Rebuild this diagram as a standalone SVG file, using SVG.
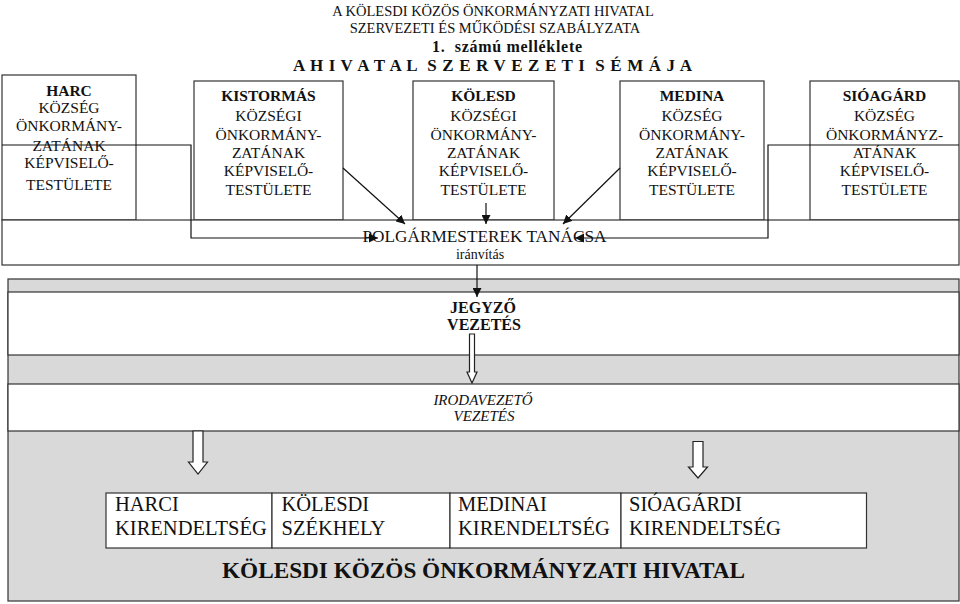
<svg xmlns="http://www.w3.org/2000/svg" width="960" height="604" viewBox="0 0 960 604">
<style>
text{font-family:"Liberation Serif","Times New Roman",serif;fill:#111;font-variant:normal;}
.u{text-transform:uppercase;}
.box{fill:#fff;stroke:#333;stroke-width:1.2;}
.band{stroke:#333;stroke-width:1.2;}
.g{fill:#d9d9d9;}
.w{fill:#fff;}
.t{font-size:15.5px;text-anchor:middle;text-transform:uppercase;}
.b{font-weight:bold;}
.c{fill:none;stroke:#111;stroke-width:1.2;}
.hollow{fill:#fff;stroke:#222;stroke-width:1.2;}
.big{font-size:20.5px;text-transform:uppercase;}
</style>
<defs>
<marker id="ah" viewBox="0 0 10 10" refX="10" refY="5" markerWidth="9" markerHeight="9" markerUnits="userSpaceOnUse" orient="auto">
<path d="M0,0 L10,5 L0,10 z" fill="#111"/>
</marker>
</defs>

<g id="header">
<text class="u" x="493" y="16" font-size="14.5" text-anchor="middle">A KÖLESDI KÖZÖS ÖNKORMÁNYZATI HIVATAL</text>
<text class="u" x="495" y="33" font-size="14.5" text-anchor="middle">SZERVEZETI ÉS MŰKÖDÉSI SZABÁLYZATA</text>
<text x="432" y="52" font-size="16" class="b" textLength="150" lengthAdjust="spacing" xml:space="preserve">1.  számú melléklete</text>
<text x="293" y="71" font-size="17" class="b u" textLength="399" lengthAdjust="spacing" xml:space="preserve">A H I V A T A L  S Z E R V E Z E T I  S É M Á J A</text>
</g>

<g id="harc">
<rect class="box" x="2" y="75" width="134" height="145"/>
<text class="t b" x="69" y="96">HARC</text>
<text class="t" x="69" y="113">KÖZSÉG</text>
<text class="t" x="69" y="131">ÖNKORMÁNY-</text>
<text class="t" x="69" y="151">ZATÁNAK</text>
<text class="t" x="69" y="168">KÉPVISELŐ-</text>
<text class="t" x="69" y="190">TESTÜLETE</text>
</g>

<g id="kistormas">
<rect class="box" x="194" y="81" width="149" height="139"/>
<text class="t b" x="268.5" y="101">KISTORMÁS</text>
<text class="t" x="268.5" y="121">KÖZSÉGI</text>
<text class="t" x="268.5" y="140">ÖNKORMÁNY-</text>
<text class="t" x="268.5" y="158">ZATÁNAK</text>
<text class="t" x="268.5" y="176">KÉPVISELŐ-</text>
<text class="t" x="268.5" y="195">TESTÜLETE</text>
</g>

<g id="kolesd">
<rect class="box" x="413" y="81" width="141" height="139"/>
<text class="t b" x="483.5" y="101">KÖLESD</text>
<text class="t" x="483.5" y="121">KÖZSÉGI</text>
<text class="t" x="483.5" y="140">ÖNKORMÁNY-</text>
<text class="t" x="483.5" y="158">ZATÁNAK</text>
<text class="t" x="483.5" y="176">KÉPVISELŐ-</text>
<text class="t" x="483.5" y="195">TESTÜLETE</text>
</g>

<g id="medina">
<rect class="box" x="620" y="81" width="144" height="139"/>
<text class="t b" x="692" y="101">MEDINA</text>
<text class="t" x="692" y="121">KÖZSÉG</text>
<text class="t" x="692" y="140">ÖNKORMÁNY-</text>
<text class="t" x="692" y="158">ZATÁNAK</text>
<text class="t" x="692" y="176">KÉPVISELŐ-</text>
<text class="t" x="692" y="195">TESTÜLETE</text>
</g>

<g id="sioagard">
<rect class="box" x="810" y="81" width="149" height="139"/>
<text class="t b" x="884.5" y="101">SIÓAGÁRD</text>
<text class="t" x="884.5" y="121">KÖZSÉG</text>
<text class="t" x="884.5" y="140">ÖNKORMÁNYZ-</text>
<text class="t" x="884.5" y="158">ATÁNAK</text>
<text class="t" x="884.5" y="176">KÉPVISELŐ-</text>
<text class="t" x="884.5" y="195">TESTÜLETE</text>
</g>

<g id="polgarmesterek">
<rect class="box" x="2" y="220" width="957" height="45"/>
<text class="u" x="484.5" y="242" font-size="17" text-anchor="middle" textLength="244" lengthAdjust="spacingAndGlyphs">POLGÁRMESTEREK TANÁCSA</text>
<text x="480" y="259" font-size="14" text-anchor="middle">iránvítás</text>
</g>

<g id="hivatal">
<rect class="band g" x="8" y="279" width="951" height="322"/>
<rect class="band w" x="8" y="292" width="951" height="63"/>
<rect class="band w" x="8" y="384" width="951" height="47"/>
</g>

<g id="jegyzo">
<text class="u b" x="483" y="313" font-size="16" text-anchor="middle">JEGYZŐ</text>
<text class="u b" x="484" y="330" font-size="16" text-anchor="middle">VEZETÉS</text>
</g>

<g id="irodavezeto">
<text class="u" x="483" y="405" font-size="15" font-style="italic" text-anchor="middle">IRODAVEZETŐ</text>
<text class="u" x="484" y="421" font-size="15" font-style="italic" text-anchor="middle">VEZETÉS</text>
</g>

<g id="harci-kirendeltseg">
<rect class="box" x="106" y="493" width="166" height="55"/>
<text class="big" x="115" y="511">HARCI</text>
<text class="big" x="115" y="535">KIRENDELTSÉG</text>
</g>
<g id="kolesdi-szekhely">
<rect class="box" x="272" y="493" width="178" height="55"/>
<text class="big" x="281.5" y="511">KÖLESDI</text>
<text class="big" x="281.5" y="535">SZÉKHELY</text>
</g>
<g id="medinai-kirendeltseg">
<rect class="box" x="450" y="493" width="171" height="55"/>
<text class="big" x="458" y="511">MEDINAI</text>
<text class="big" x="458" y="535">KIRENDELTSÉG</text>
</g>
<g id="sioagardi-kirendeltseg">
<rect class="box" x="621" y="493" width="245.5" height="55"/>
<text class="big" x="629" y="511">SIÓAGÁRDI</text>
<text class="big" x="629" y="535">KIRENDELTSÉG</text>
</g>

<g id="title">
<text class="u b" x="483.5" y="578" font-size="22.5" text-anchor="middle" textLength="523" lengthAdjust="spacingAndGlyphs">KÖLESDI KÖZÖS ÖNKORMÁNYZATI HIVATAL</text>
</g>

<g id="connectors">
<polyline class="c" points="2,145 191,145 191,238 378,238" marker-end="url(#ah)"/>
<polyline class="c" points="959,145 768,145 768,238 575,238" marker-end="url(#ah)"/>
<line class="c" x1="343" y1="168" x2="405" y2="224" marker-end="url(#ah)"/>
<line class="c" x1="486" y1="203" x2="486" y2="224" marker-end="url(#ah)"/>
<line class="c" x1="620" y1="168" x2="563" y2="224" marker-end="url(#ah)"/>
<line class="c" x1="477" y1="265" x2="477" y2="297" marker-end="url(#ah)"/>
<path class="hollow" d="M469.5,334 L474.5,334 L474.5,372 L477,372 L472,383 L467,372 L469.5,372 Z"/>
<path class="hollow" d="M193,431 L203,431 L203,462 L207.5,462 L198,474 L188.5,462 L193,462 Z"/>
<path class="hollow" d="M693,441.5 L703,441.5 L703,467 L707.5,467 L698,478 L688.5,467 L693,467 Z"/>
</g>
</svg>
